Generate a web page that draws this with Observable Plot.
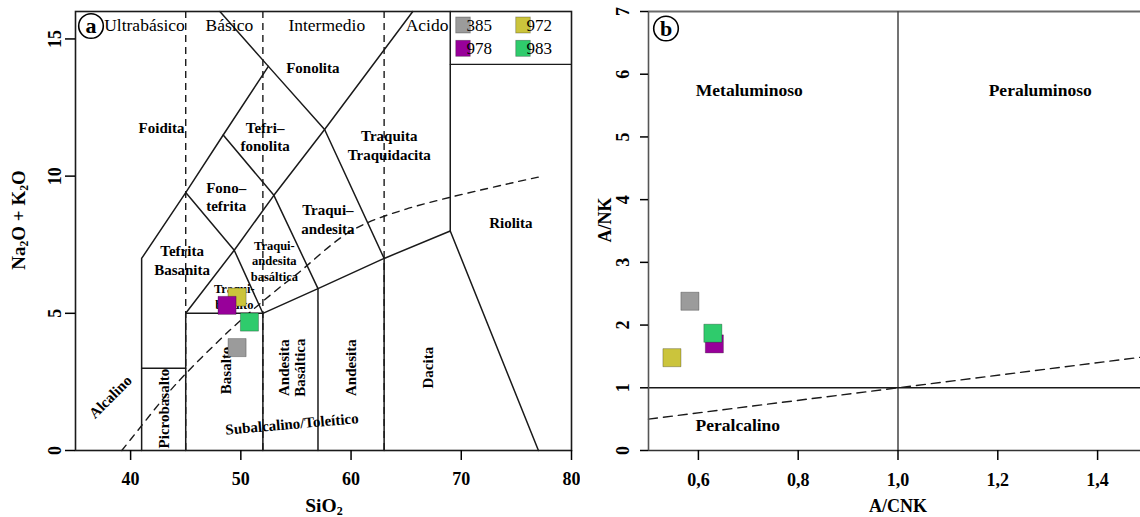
<!DOCTYPE html>
<html><head><meta charset="utf-8">
<script src="https://cdn.jsdelivr.net/npm/d3@7"></script>
<script src="https://cdn.jsdelivr.net/npm/@observablehq/plot@0.6"></script>
<style>
html,body{margin:0;padding:0;background:#fff;overflow:hidden;}
#wrap{display:flex;width:1140px;height:517px;}
#wrap svg{max-width:none;display:block;flex:none;font-family:"Liberation Serif","Times New Roman",serif !important;}
#wrap svg text{font-family:"Liberation Serif","Times New Roman",serif !important;}
</style></head><body><div id="wrap"></div>
<script>
// ---- sample data ----
const samples = ["385", "972", "978", "983"];
const sampleColors = ["#9b9b9b", "#cbc43c", "#98009a", "#2fcb6c"];
const sio2 = [49.66, 49.66, 48.75, 50.78];
const alkalis = [3.75, 5.59, 5.29, 4.68];
const acnk = [0.583, 0.547, 0.632, 0.629];
const ank = [2.38, 1.48, 1.70, 1.87];

// ---- ticks ----
const tasXTicks = [40, 50, 60, 70, 80];
const tasYTicks = [0, 5, 10, 15];
const shandXTicks = [0.6, 0.8, 1.0, 1.2, 1.4];
const shandXTickLabels = ["0,6", "0,8", "1,0", "1,2", "1,4"];
const shandYTicks = [0, 1, 2, 3, 4, 5, 6, 7];

// ---- TAS field boundaries ----
const tasSolid = [
  [[41,0],[41,7],[45,9.4],[48.4,11.5],[52.5,14]],
  [[48.1,16],[52.5,14],[57.6,11.7],[63,7]],
  [[41,3],[45,3]],
  [[45,0],[45,5],[52,5]],
  [[45,5],[49.4,7.3],[53,9.3],[57.6,11.7],[65.6,16]],
  [[48.4,11.5],[53,9.3],[57,5.9]],
  [[45,9.4],[49.4,7.3],[52,5]],
  [[52,0],[52,5],[57,5.9],[63,7],[69,8],[77,0]],
  [[57,0],[57,5.9]],
  [[63,0],[63,7]],
  [[69,8],[69,16]]
];
const silicaDividers = [45, 52, 63];
const alkalineLine = [[39.2,0],[40,0.4],[43.2,2],[45,2.8],[48,4],[50,4.75],[53.7,6],[55,6.4],[60,8],[65,8.8],[77.4,10]];
const legendBottom = [[69,14.07],[80,14.07]];

// ---- TAS labels ----
const fieldLabels = [
  {name:"Foidita", x:42.8, y:11.8},
  {name:"Tefri–\nfonolita", x:52.2, y:11.45},
  {name:"Fono–\ntefrita", x:48.67, y:9.27},
  {name:"Fonolita", x:56.53, y:13.97},
  {name:"Traquita\nTraquidacita", x:63.46, y:11.15},
  {name:"Traqui–\nandesita", x:57.9, y:8.45},
  {name:"Tefrita\nBasanita", x:44.67, y:6.96},
  {name:"Riolita", x:74.5, y:8.33}
];
const smallLabels = [
  {name:"Traqui-\nandesita\nbasáltica", x:53.04, y:6.93},
  {name:"Traqui-\nbasalto", x:49.41, y:5.63}
];
const verticalLabels = [
  {name:"Basalto", x:48.67, y:2.92},
  {name:"Picrobasalto", x:43.0, y:1.53},
  {name:"Andesita\nBasáltica", x:54.67, y:3.02},
  {name:"Andesita", x:60.02, y:3.02},
  {name:"Dacita", x:67.02, y:3.02}
];
const seriesLabels = [
  {name:"Alcalino", x:38.17, y:1.95},
  {name:"Subalcalino/Toleítico", x:54.64, y:0.96}
];
const silicaClassLabels = [
  {name:"Ultrabásico", x:41.26, y:15.49},
  {name:"Básico", x:48.96, y:15.49},
  {name:"Intermedio", x:57.8, y:15.49},
  {name:"Acido", x:66.9, y:15.49}
];

// ---- Shand diagram ----
const shandLine = [[0.5,0.5],[1.5,1.5]];
const shandLabels = [
  {name:"Metaluminoso", x:0.702, y:5.75},
  {name:"Peraluminoso", x:1.285, y:5.75},
  {name:"Peralcalino", x:0.679, y:0.40}
];

const rows = samples.map((s, i) => ({sample: s, sio2: sio2[i], alk: alkalis[i], acnk: acnk[i], ank: ank[i]}));
const serif = "Liberation Serif, Times New Roman, serif";
const ink = "#1a1a1a";

const solidRows = tasSolid.flatMap((seg, i) => seg.map(([x, y]) => ({x, y, seg: i})));

const plotA = Plot.plot({
  width: 580, height: 517,
  marginLeft: 75, marginRight: 9, marginTop: 11, marginBottom: 67,
  x: {domain: [35, 80]},
  y: {domain: [0, 16]},
  color: {domain: samples, range: sampleColors},
  style: {background: "white", color: "black"},
  marks: [
    Plot.ruleX(silicaDividers, {stroke: ink, strokeWidth: 1.4, strokeDasharray: "7,5"}),
    Plot.line(alkalineLine, {x: d => d[0], y: d => d[1], curve: "catmull-rom", stroke: ink, strokeWidth: 1.4, strokeDasharray: "7,6"}),
    Plot.line(solidRows, {x: "x", y: "y", z: "seg", stroke: ink, strokeWidth: 1.5}),
    Plot.line(legendBottom, {x: d => d[0], y: d => d[1], stroke: ink, strokeWidth: 1.2}),
    Plot.frame({stroke: ink, strokeWidth: 1.6}),
    Plot.axisX({ticks: tasXTicks, tickSize: 10, tickFormat: () => "", label: null, strokeWidth: 1.5}),
    Plot.axisY({ticks: tasYTicks, tickSize: 10, tickFormat: () => "", label: null, strokeWidth: 1.5}),
    Plot.text(tasXTicks, {x: d => d, text: d => String(d), frameAnchor: "bottom", dy: 29, lineAnchor: "middle", textAnchor: "middle", fontSize: 18, fontWeight: "bold"}),
    Plot.text(tasYTicks, {y: d => d, text: d => String(d), frameAnchor: "left", dx: -20, rotate: -90, lineAnchor: "middle", textAnchor: "middle", fontSize: 18, fontWeight: "bold"}),
    Plot.text(fieldLabels, {x: "x", y: "y", text: "name", fontSize: 15, fontWeight: "bold", lineHeight: 1.22, lineAnchor: "middle"}),
    Plot.text(smallLabels, {x: "x", y: "y", text: "name", fontSize: 12.5, fontWeight: "bold", lineHeight: 1.26, lineAnchor: "middle"}),
    Plot.text(verticalLabels, {x: "x", y: "y", text: "name", rotate: -90, fontSize: 15, fontWeight: "bold", lineHeight: 1.05, lineAnchor: "middle"}),
    Plot.text(seriesLabels.slice(0,1), {x: "x", y: "y", text: "name", rotate: -45, fontSize: 15, fontWeight: "bold", lineAnchor: "middle"}),
    Plot.text(seriesLabels.slice(1), {x: "x", y: "y", text: "name", rotate: -5, fontSize: 15, fontWeight: "bold", lineAnchor: "middle"}),
    Plot.text(silicaClassLabels, {x: "x", y: "y", text: "name", fontSize: 17.5, lineAnchor: "middle"}),
    Plot.dot(rows, {x: "sio2", y: "alk", fill: "sample", symbol: "square", r: 10.2, stroke: "#00000055", strokeWidth: 0.8})
  ]
});

const plotB = Plot.plot({
  width: 560, height: 517,
  marginLeft: 68, marginRight: -7, marginTop: 11, marginBottom: 67,
  x: {domain: [0.5, 1.5]},
  y: {domain: [0, 7]},
  color: {domain: samples, range: sampleColors},
  style: {background: "white", color: "black", overflow: "hidden"},
  marks: [
    Plot.ruleY([7], {stroke: "#6a6a6a", strokeWidth: 2.2}),
    Plot.ruleX([1.0], {stroke: "#444", strokeWidth: 1.5}),
    Plot.ruleY([1], {stroke: ink, strokeWidth: 1.5}),
    Plot.line(shandLine, {x: d => d[0], y: d => d[1], stroke: ink, strokeWidth: 1.4, strokeDasharray: "9,6"}),
    Plot.ruleY([0], {stroke: "#333", strokeWidth: 1.6}),
    Plot.ruleX([0.5], {stroke: "#555", strokeWidth: 1.6}),
    Plot.axisX({ticks: shandXTicks, tickSize: 10, tickFormat: () => "", label: null, strokeWidth: 1.5}),
    Plot.axisY({ticks: shandYTicks, tickSize: 8, tickFormat: () => "", label: null, strokeWidth: 1.5}),
    Plot.text(shandXTicks, {x: d => d, text: (d, i) => shandXTickLabels[i], frameAnchor: "bottom", dy: 30, lineAnchor: "middle", textAnchor: "middle", fontSize: 18, fontWeight: "bold"}),
    Plot.text(shandYTicks, {y: d => d, text: d => String(d), frameAnchor: "left", dx: -25, rotate: -90, lineAnchor: "middle", textAnchor: "middle", fontSize: 18, fontWeight: "bold"}),
    Plot.text(shandLabels, {x: "x", y: "y", text: "name", fontSize: 17.5, fontWeight: "bold", lineAnchor: "middle"}),
    Plot.dot(rows, {x: "acnk", y: "ank", fill: "sample", symbol: "square", r: 10.2, stroke: "#00000055", strokeWidth: 0.8})
  ]
});

const wrap = document.getElementById("wrap");
wrap.appendChild(plotA);
wrap.appendChild(plotB);

// ---- decorations: titles, badges, legend ----
function titled(svg, parts, x, y, rotate, size) {
  const t = svg.append("text")
    .attr("transform", `translate(${x},${y})` + (rotate ? ` rotate(${rotate})` : ""))
    .attr("text-anchor", "middle").attr("dy", "0.35em")
    .attr("font-weight", "bold").attr("font-size", size).attr("fill", "black");
  let shifted = false;
  parts.forEach(p => {
    const sub = p.startsWith("_");
    const s = t.append("tspan").text(sub ? p.slice(1) : p);
    if (sub) { s.attr("font-size", size * 0.62).attr("dy", "0.3em"); shifted = true; }
    else if (shifted) { s.attr("dy", `${-0.3 * 0.62}em`); shifted = false; }
  });
}
function badge(svg, x, y, letter) {
  svg.append("circle").attr("cx", x).attr("cy", y).attr("r", 12.3).attr("fill", "white").attr("stroke", "black").attr("stroke-width", 1.6);
  svg.append("text").attr("x", x).attr("y", y).attr("dy", "0.33em").attr("text-anchor", "middle")
    .attr("font-weight", "bold").attr("font-size", 22).text(letter);
}

const sA = d3.select(plotA), sB = d3.select(plotB);
titled(sA, ["Na", "_2", "O + K", "_2", "O"], 18, 220, -90, 19);
titled(sA, ["SiO", "_2"], 324, 505, 0, 19.5);
titled(sB, ["A/NK"], 25, 220, -90, 18);
titled(sB, ["A/CNK"], 318, 506, 0, 18);
badge(sA, 91, 26, "a");
badge(sB, 86, 28.5, "b");

const xA = plotA.scale("x"), yA = plotA.scale("y");
const L = xA.apply(69), T = yA.apply(16);
const lg = sA.append("g").attr("font-size", 17);
samples.forEach((s, i) => {
  const col = i % 2, row = Math.floor(i / 2);
  const cy = T + 14 + row * 23.3;
  const sx = L + 6 + col * 60;
  lg.append("rect").attr("x", sx).attr("y", cy - 8).attr("width", 14.5).attr("height", 16)
    .attr("fill", sampleColors[i]).attr("stroke", "#00000055").attr("stroke-width", 0.8);
  lg.append("text").attr("x", sx + 23.5).attr("y", cy).attr("dy", "0.34em").text(s);
});
</script></body></html>
